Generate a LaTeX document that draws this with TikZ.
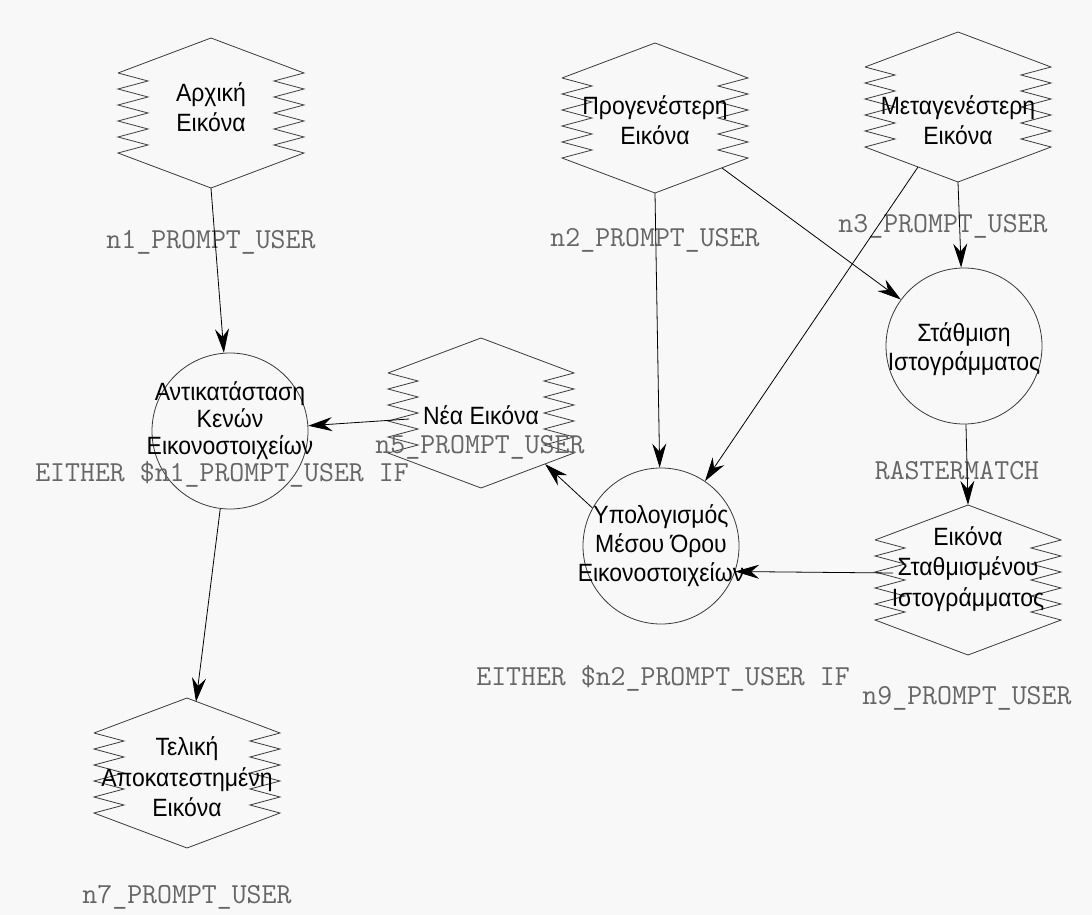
\documentclass[tikz,border=0pt]{standalone}
\usepackage{fontspec}
\setmainfont{Liberation Sans}[FakeStretch=0.92]
\usetikzlibrary{arrows.meta,calc}
\definecolor{bg}{HTML}{F8F8F8}
\definecolor{lbl}{HTML}{666666}
\definecolor{shp}{HTML}{3A3A3A}
\tikzset{
  hexline/.style={draw=shp,line width=0.8pt,line join=miter},
  hexnode/.style={rectangle,minimum width=186pt,minimum height=150pt,inner sep=0pt},
  circnode/.style={circle,draw=shp,line width=0.8pt,minimum size=156pt,inner sep=0pt},
  txt/.style={align=center,font=\fontsize{25}{30.5}\selectfont,text=black,inner sep=0pt},
  ctxt/.style={align=center,font=\fontsize{25}{29}\selectfont,text=black,inner sep=0pt},
  lab/.style={font=\fontsize{29}{30}\selectfont\ttfamily,text=lbl,inner sep=0pt},
  arr/.style={draw=black,line width=0.8pt,-{Stealth[length=24pt,width=14pt,inset=8pt]}}
}
\newcommand\hexout[1]{%
  \draw[hexline] ([shift={(-93,-40)}]#1.center) -- ([shift={(0,-75)}]#1.center) -- ([shift={(93,-40)}]#1.center)
    \foreach \k in {1,...,5}{ -- ++(-30,8) -- ++(30,8)}
    -- ([shift={(0,75)}]#1.center) -- ([shift={(-93,40)}]#1.center)
    \foreach \k in {1,...,5}{ -- ++(30,-8) -- ++(-30,-8)};}
\begin{document}
\begin{tikzpicture}[x=1pt,y=-1pt]
\path[use as bounding box,fill=bg] (0,0) rectangle (1092,915);

% hexagon nodes
\node[hexnode] (arx) at (211,113) {};
\node[hexnode] (prog) at (655,118) {};
\node[hexnode] (meta) at (958,107) {};
\node[hexnode] (nea) at (481,413) {};
\node[hexnode] (eik) at (968,580) {};
\node[hexnode] (tel) at (187,773) {};
\hexout{arx}\hexout{prog}\hexout{meta}\hexout{nea}\hexout{eik}\hexout{tel}

% circle nodes
\node[circnode] (ant) at (230,431) {};
\node[circnode] (stath) at (964,346) {};
\node[circnode] (ypol) at (661,546) {};

% texts
\node[txt] (tarx) at (211,107) {Αρχική\\Εικόνα};
\node[txt] (tprog) at (655,120) {Προγενέστερη\\Εικόνα};
\node[txt] (tmeta) at (958,120) {Μεταγενέστερη\\Εικόνα};
\node[txt] (tnea) at (481,415) {Νέα Εικόνα};
\node[txt] (teik) at (968,569) {Εικόνα\\Σταθμισμένου\\Ιστογράμματος};
\node[txt] (ttel) at (187,777) {Τελική\\Αποκατεστημένη\\Εικόνα};
\node[align=center,font=\fontsize{25}{27}\selectfont,inner sep=0pt] (tant) at (230,421) {Αντικατάσταση\\Κενών\\Εικονοστοιχείων};
\node[ctxt] (tstath) at (964,349) {Στάθμιση\\Ιστογράμματος};
\node[ctxt] (typol) at (661,546) {Υπολογισμός\\Μέσου Όρου\\Εικονοστοιχείων};

% labels
\node[lab] (l1) at (211,242) {n1\_PROMPT\_USER};
\node[lab] (l2) at (655,240) {n2\_PROMPT\_USER};
\node[lab] (l3) at (943,226) {n3\_PROMPT\_USER};
\node[lab] (l4) at (957,471) {RASTERMATCH};
\node[lab] (l5) at (480,447) {n5\_PROMPT\_USER};
\node[lab] (l6) at (222,474) {EITHER \$n1\_PROMPT\_USER IF};
\node[lab] (l7) at (663,678) {EITHER \$n2\_PROMPT\_USER IF};
\node[lab] (l8) at (967,698) {n9\_PROMPT\_USER};
\node[lab] (l9) at (187,897) {n7\_PROMPT\_USER};

% connector end points on hexagon borders
\coordinate (prog-se) at ([shift={(67,50)}]prog.center);
\coordinate (meta-sw) at ([shift={(-40,60)}]meta.center);
\coordinate (eik-w) at ([shift={(-75,-7)}]eik.center);
\coordinate (nea-se) at ([shift={(64,51)}]nea.center);
\coordinate (nea-w) at ([shift={(-72,6)}]nea.center);
\coordinate (tel-n) at ([shift={(9,4)}]tel.north);

% connectors
\draw[arr] (arx.south) -- (ant);
\draw[arr] (prog.south) -- (ypol);
\draw[arr] (prog-se) -- (stath);
\draw[arr] (meta-sw) -- (ypol);
\draw[arr] (meta.south) -- (stath);
\draw[arr] (stath) -- (eik.north);
\draw[arr] (eik-w) -- (ypol.-19);
\draw[arr] (ypol.151) -- (nea-se);
\draw[arr] (nea-w) -- (ant);
\draw[arr] (ant) -- (tel-n);
\end{tikzpicture}
\end{document}
